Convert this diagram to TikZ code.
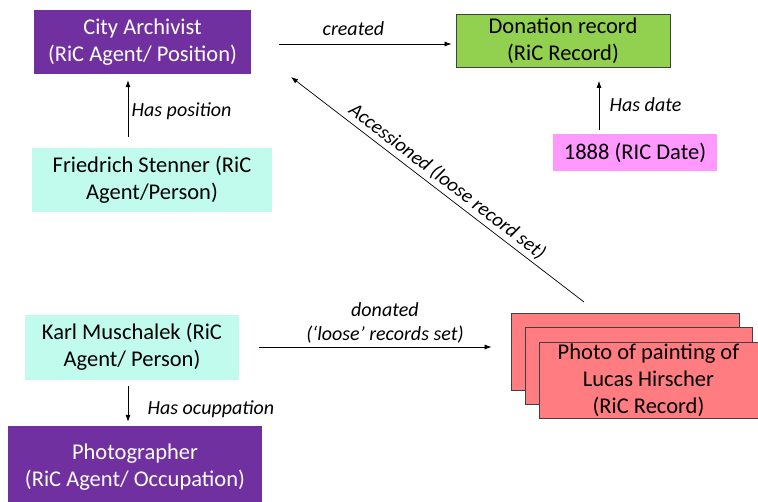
\documentclass[tikz,border=0pt]{standalone}
\usepackage{fontspec}
\setmainfont{Carlito}
\usetikzlibrary{arrows.meta}
\definecolor{agentpurple}{HTML}{7030A0}
\definecolor{personcyan}{HTML}{C1FBEE}
\definecolor{recordgreen}{HTML}{92D050}
\definecolor{datepink}{HTML}{FF99FF}
\definecolor{photored}{HTML}{FF7C80}
\definecolor{boxgray}{HTML}{404040}

\begin{document}
\begin{tikzpicture}[x=1pt,y=-1pt,
  box/.style={inner sep=0pt, align=center, font=\fontsize{22.5}{27}\selectfont},
  agentpos/.style={box, fill=agentpurple, text=white},
  agentperson/.style={box, fill=personcyan},
  recordbox/.style={box, fill=recordgreen, draw=boxgray, line width=0.8pt},
  datebox/.style={box, fill=datepink},
  photobox/.style={box, fill=photored, draw=boxgray, line width=0.8pt},
  arr/.style={-{Latex[length=7pt,width=5pt]}, line width=0.7pt},
  lbl/.style={font=\itshape\fontsize{20}{24}\selectfont}]
\useasboundingbox (0,0) rectangle (758,501);

% top half
\node[agentpos, minimum width=217pt, minimum height=64pt] (archivist) at (142.5,42) {City Archivist\\(RiC Agent/ Position)};
\node[agentperson, minimum width=240pt, minimum height=64pt] (stenner) at (152,180) {Friedrich Stenner (RiC\\Agent/Person)};
\node[recordbox, minimum width=214pt, minimum height=53pt] (donation) at (563,41) {Donation record\\(RiC Record)};
\node[datebox, minimum width=164pt, minimum height=37pt] (date) at (635,152.5) {1888 (RIC Date)};

% bottom half
\node[agentperson, minimum width=214pt, minimum height=65pt] (karl) at (132,347) {Karl Muschalek (RiC\\Agent/ Person)};
\node[agentpos, minimum width=254pt, minimum height=83pt] (photographer) at (135,467.5) {Photographer\\(RiC Agent/ Occupation)};

% stack of photo records
\node[photobox, minimum width=228pt, minimum height=77pt] (back1) at (625,351.5) {};
\node[photobox, minimum width=227pt, minimum height=77pt] (back2) at (638.5,365.5) {};
\node[photobox, minimum width=219pt, minimum height=76pt] (front) at (648.5,380) {Photo of painting of\\Lucas Hirscher\\(RiC Record)};

\coordinate (accfrom) at (584,302);
\coordinate (accto) at (291,77);

% relations
\draw[arr, shorten <=28pt, shorten >=4pt] ([yshift=-2pt]archivist.east) -- ([yshift=-2pt]archivist.east -| donation.west)
  node[lbl, midway, above=5pt] (createdlbl) {created};
\draw[arr, shorten <=11pt, shorten >=6pt] ([xshift=-24pt]stenner.north) -- ([xshift=-14.5pt]archivist.south)
  node[lbl, midway, right] (positionlbl) {Has position};
\draw[arr, shorten <=4pt, shorten >=13pt] ([xshift=-36pt]date.north) -- ([xshift=-36pt]date.north |- donation.south)
  node[lbl, midway, right, xshift=7pt, yshift=-4pt] (datelbl) {Has date};
\draw[arr] (accfrom) -- (accto)
  node[lbl, midway, sloped, above, xshift=3pt] (accessionlbl) {Accessioned (loose record set)};
\draw[arr, shorten <=20pt, shorten >=19pt] (karl.east) -- (karl.east -| back1.west)
  node[lbl, midway, above, align=center, xshift=10pt] (donatedlbl) {donated\\(`loose' records set)};
\draw[arr, shorten <=6pt, shorten >=4pt] ([xshift=-4pt]karl.south) -- ([xshift=-7pt]photographer.north)
  node[lbl, midway, right, xshift=16pt, yshift=-6pt] (occupationlbl) {Has ocuppation};
\end{tikzpicture}
\end{document}
